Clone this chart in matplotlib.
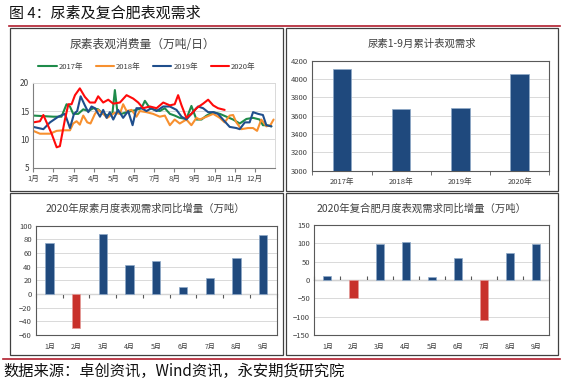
import matplotlib
matplotlib.use("Agg")
import matplotlib.pyplot as plt
from matplotlib.patches import Rectangle
from matplotlib.lines import Line2D

plt.rcParams['font.family'] = ['Noto Sans CJK SC', 'DejaVu Sans']

# ---------------- data ----------------
months12 = ['1月', '2月', '3月', '4月', '5月', '6月', '7月', '8月', '9月', '10月', '11月', '12月']
months9 = months12[:9]

x2017 = [1.00, 1.50, 1.99, 2.40, 2.65, 2.82, 2.98, 3.23, 3.48, 3.73, 3.98, 4.22, 4.47, 4.72, 4.93, 5.05,
         5.17, 5.38, 5.63, 5.88, 6.12, 6.37, 6.54, 6.79, 7.03, 7.28, 7.53, 7.78, 8.02, 8.27, 8.60, 8.85,
         9.10, 9.35, 9.60, 9.93, 10.26, 10.59, 10.92, 11.25, 11.58, 11.91, 12.24, 12.40, 12.57, 12.82]
y2017 = [14.2, 14.1, 14.0, 14.0, 16.2, 15.8, 14.5, 14.5, 15.3, 15.0, 15.5, 15.3, 14.5, 14.2, 14.6, 18.7,
         15.0, 14.5, 14.8, 15.0, 15.2, 15.5, 16.8, 15.5, 15.2, 15.0, 15.5, 14.5, 14.2, 13.8, 13.6, 15.9,
         13.5, 13.5, 14.2, 14.8, 14.5, 14.0, 13.5, 12.8, 13.6, 13.8, 13.5, 12.5, 12.5, 12.3]

x2018 = [1.00, 1.33, 1.83, 2.16, 2.49, 2.82, 2.98, 3.15, 3.31, 3.48, 3.68, 3.84, 4.06, 4.22, 4.47, 4.67,
         4.88, 5.05, 5.30, 5.46, 5.63, 5.88, 6.12, 6.29, 6.62, 6.95, 7.28, 7.53, 7.78, 8.02, 8.27, 8.60,
         8.85, 9.10, 9.26, 9.60, 9.93, 10.26, 10.50, 10.75, 10.92, 11.08, 11.33, 11.66, 11.91, 12.11,
         12.32, 12.57, 12.77, 12.93]
y2018 = [11.5, 11.0, 11.0, 11.5, 11.6, 11.6, 12.8, 13.2, 12.6, 14.2, 13.0, 12.8, 14.5, 15.2, 14.5, 13.8,
         14.3, 14.7, 14.5, 16.2, 15.0, 15.2, 14.0, 15.0, 14.8, 14.5, 14.0, 14.2, 12.5, 13.5, 12.8, 13.5,
         12.5, 13.8, 13.5, 14.0, 14.5, 13.8, 13.0, 14.2, 14.3, 13.0, 11.8, 12.0, 12.0, 11.5,
         13.5, 12.3, 12.5, 13.5]

x2019 = [1.00, 1.50, 1.83, 2.24, 2.57, 2.82, 3.02, 3.18, 3.35, 3.56, 3.73, 3.89, 4.06, 4.31, 4.47, 4.64,
         4.80, 4.97, 5.21, 5.46, 5.71, 5.93, 6.12, 6.37, 6.62, 6.87, 7.12, 7.45, 7.78, 8.11, 8.36, 8.60,
         8.85, 9.18, 9.43, 9.68, 9.93, 10.17, 10.42, 10.75, 11.08, 11.25, 11.50, 11.74, 11.91, 12.16,
         12.40, 12.57, 12.82]
y2019 = [12.2, 11.8, 13.0, 14.0, 14.5, 12.0, 14.5, 15.0, 17.6, 16.0, 14.8, 15.8, 15.5, 14.0, 15.2, 13.8,
         14.8, 13.5, 15.2, 13.8, 15.0, 12.5, 15.5, 15.5, 15.0, 15.5, 15.0, 15.8, 15.8, 15.2, 14.0, 13.5,
         14.5, 15.8, 15.5, 14.8, 14.8, 14.5, 13.5, 12.2, 12.0, 11.8, 13.0, 13.0, 14.8, 14.5,
         14.3, 12.5, 12.3]

x2020 = [1.00, 1.33, 1.50, 1.66, 1.91, 2.16, 2.32, 2.57, 2.74, 2.90, 3.07, 3.31, 3.56, 3.81, 4.06, 4.22,
         4.47, 4.72, 4.97, 5.30, 5.63, 5.96, 6.21, 6.45, 6.79, 7.12, 7.45, 7.78, 8.02, 8.19, 8.36, 8.60,
         8.85, 9.10, 9.43, 9.68, 9.93, 10.17, 10.50]
y2020 = [13.0, 13.2, 14.3, 13.0, 11.0, 8.6, 8.8, 13.5, 16.2, 16.2, 17.8, 19.0, 17.5, 16.5, 16.5, 17.6,
         16.5, 17.0, 16.3, 16.5, 17.8, 17.2, 16.5, 15.5, 15.8, 15.5, 16.5, 16.0, 16.2, 17.8, 16.0, 13.8,
         14.5, 15.5, 16.3, 17.0, 16.0, 15.5, 15.2]

years = ['2017年', '2018年', '2019年', '2020年']
cum_demand = [4110, 3670, 3680, 4060]

urea_yoy = [75, -50, 88, 43, 49, 10, 24, 53, 87]
compound_yoy = [11, -48, 97, 104, 7, 59, -110, 75, 99]

# ---------------- style ----------------
W, H = 568, 383
BLUE_BAR = '#1F497D'
RED_BAR = '#C8312B'
GRID = '#D9D9D9'
AXC = '#7F7F7F'
TXT = '#404040'
line_colors = ['#1E8B4A', '#F7902F', '#1F4E8C', '#FF0A0A']

fig = plt.figure(figsize=(W / 100, H / 100), dpi=100)


def rect(x0, y0, x1, y1):
    return [x0 / W, 1 - y1 / H, (x1 - x0) / W, (y1 - y0) / H]


def fx(x):
    return x / W


def fy(y):
    return 1 - y / H


# header / footer
fig.text(fx(9), fy(14), '图 4：尿素及复合肥表观需求', fontsize=10.8, color='#111111', va='center', ha='left')
fig.add_artist(Line2D([fx(9), fx(560)], [fy(26), fy(26)], color='#B01E2E', lw=1.2))
fig.add_artist(Line2D([fx(3), fx(560)], [fy(359), fy(359)], color='#B01E2E', lw=1.2))
fig.text(fx(3), fy(371), '数据来源：卓创资讯，Wind资讯，永安期货研究院', fontsize=11, color='#111111',
         va='center', ha='left')

# panel boxes
for (x0, y0, x1, y1) in [(10, 28, 283, 191), (286, 28, 558, 191), (10, 193, 283, 355), (286, 193, 558, 355)]:
    fig.add_artist(Rectangle((fx(x0), fy(y1)), fx(x1) - fx(x0), fy(y0) - fy(y1), fill=False,
                             edgecolor='#404040', lw=0.9, transform=fig.transFigure))

# ---------------- top-left: line chart ----------------
ax1 = fig.add_axes(rect(33.3, 82.7, 275, 167.7))
for xs, ys, c, lab in [(x2017, y2017, line_colors[0], years[0]), (x2018, y2018, line_colors[1], years[1]),
                       (x2019, y2019, line_colors[2], years[2]), (x2020, y2020, line_colors[3], years[3])]:
    ax1.plot(xs, ys, color=c, lw=1.5, label=lab, solid_joinstyle='round', solid_capstyle='round')
ax1.set_xlim(1, 13)
ax1.set_ylim(5, 20)
ax1.set_yticks([5, 10, 15, 20])
ax1.set_xticks(range(1, 13))
ax1.set_xticklabels(months12)
ax1.grid(axis='y', color=GRID, lw=0.7)
ax1.set_axisbelow(True)
for s in ['top', 'right']:
    ax1.spines[s].set_color(GRID)
    ax1.spines[s].set_linewidth(0.7)
for s in ['left', 'bottom']:
    ax1.spines[s].set_color(AXC)
    ax1.spines[s].set_linewidth(0.8)
ax1.tick_params(axis='y', length=0, labelsize=6, labelcolor=TXT, pad=3)
ax1.tick_params(axis='x', length=3, color=AXC, labelsize=5.5, labelcolor=TXT, pad=2)
fig.text(fx(142), fy(45), '尿素表观消费量（万吨/日）', fontsize=8.5, color=TXT, ha='center', va='center')
fig.legend(handles=ax1.get_lines(), labels=years, loc='center', bbox_to_anchor=(fx(147), fy(66.5)),
           ncol=4, frameon=False, fontsize=5.5, handlelength=2.4, columnspacing=1.6, handletextpad=0.3,
           labelcolor=TXT)

# ---------------- top-right: cumulative bars ----------------
ax2 = fig.add_axes(rect(312.3, 60.7, 549.3, 170.7))
pos2 = list(range(len(years)))
ax2.bar(pos2, cum_demand, width=0.31, color=BLUE_BAR, edgecolor='#8EA9C8', linewidth=0.5, zorder=3)
ax2.set_ylim(3000, 4200)
ax2.set_yticks(range(3000, 4201, 200))
ax2.set_xlim(-0.5, len(years) - 0.5)
ax2.set_xticks(pos2)
ax2.set_xticklabels(years)
ax2.set_xticks([p + 0.5 for p in range(-1, len(years))], minor=True)
ax2.grid(axis='y', color=GRID, lw=0.7)
ax2.set_axisbelow(True)
for s in ax2.spines.values():
    s.set_color('#595959')
    s.set_linewidth(0.8)
ax2.tick_params(axis='y', length=0, labelsize=5.5, labelcolor=TXT, pad=3)
ax2.tick_params(axis='x', which='major', length=0, labelsize=5.5, labelcolor=TXT, pad=5)
ax2.tick_params(axis='x', which='minor', length=3, color='#595959')
fig.text(fx(422), fy(43.5), '尿素1-9月累计表观需求', fontsize=7.5, color=TXT, ha='center', va='center')


# ---------------- bottom bar charts ----------------
def yoy_panel(r, values, ylo, yhi, step, title, title_x):
    ax = fig.add_axes(rect(*r))
    pos = list(range(len(values)))
    cols = [BLUE_BAR if v >= 0 else RED_BAR for v in values]
    edges = ['#8EA9C8' if v >= 0 else '#E39A97' for v in values]
    ax.bar(pos, values, width=0.31, color=cols, edgecolor=edges, linewidth=0.5, zorder=3)
    ax.set_ylim(ylo, yhi)
    ax.set_yticks(range(ylo, yhi + 1, step))
    ax.set_xlim(-0.5, len(values) - 0.5)
    ax.set_xticks(pos)
    ax.set_xticklabels(months9)
    ax.grid(axis='y', color=GRID, lw=0.7)
    ax.set_axisbelow(True)
    for s in ax.spines.values():
        s.set_color('#595959')
        s.set_linewidth(0.8)
    ax.tick_params(axis='y', length=0, labelsize=5.5, labelcolor=TXT, pad=3)
    ax.tick_params(axis='x', length=0, labelsize=5, labelcolor=TXT, pad=6)
    zero_frac = (0 - ylo) / (yhi - ylo)
    sec = ax.secondary_xaxis(zero_frac)
    sec.set_xticks([p + 0.5 for p in range(-1, len(values))])
    sec.set_xticklabels([])
    sec.spines['bottom'].set_color('#595959')
    sec.spines['bottom'].set_linewidth(0.8)
    sec.tick_params(axis='x', direction='out', length=3, color='#595959')
    fig.text(fx(title_x), fy(209), title, fontsize=7.5, color=TXT, ha='center', va='center')
    return ax


yoy_panel((36, 225.7, 276.7, 335), urea_yoy, -60, 100, 20, '2020年尿素月度表观需求同比增量（万吨）', 145)
yoy_panel((314.3, 225, 549.3, 335), compound_yoy, -150, 150, 50, '2020年复合肥月度表观需求同比增量（万吨）', 422)

fig.savefig('out.png', dpi=100)
